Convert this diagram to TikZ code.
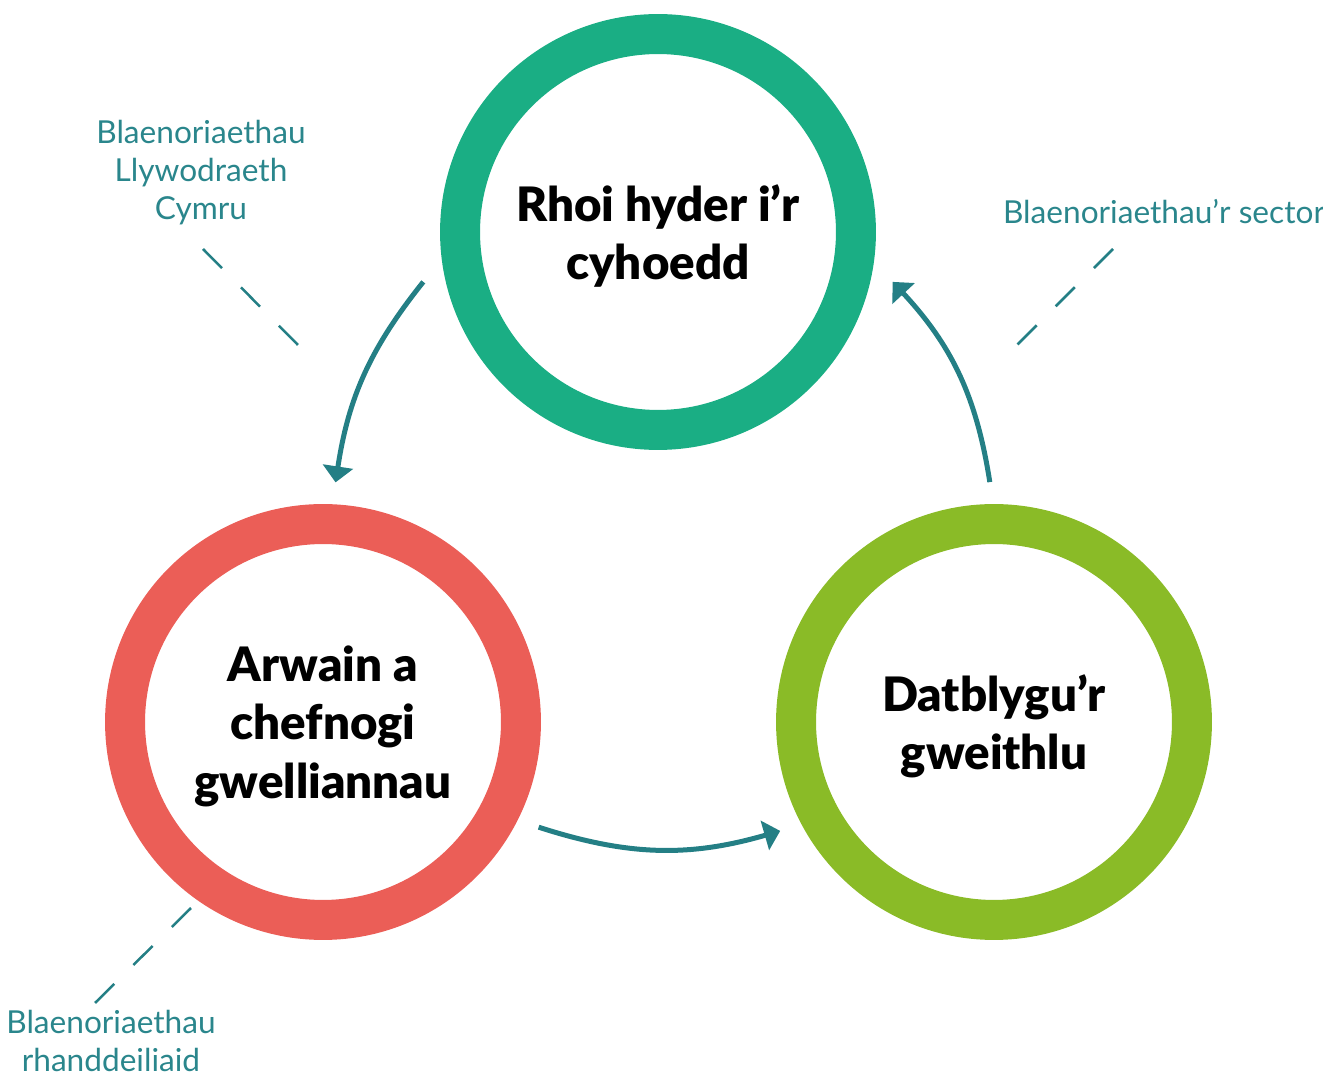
\documentclass[tikz,border=0pt]{standalone}
\usepackage{fontspec}
\setmainfont{Lato}[BoldFont={Lato Black}]
\usepackage{xcolor}
\usetikzlibrary{arrows.meta}
\definecolor{ringteal}{HTML}{1AAE84}
\definecolor{ringred}{HTML}{EB5E57}
\definecolor{ringgreen}{HTML}{8ABB27}
\definecolor{link}{HTML}{247F85}
\definecolor{labc}{HTML}{2A868C}
\tikzset{
  ring/.style={circle, draw=#1, line width=0.8cm, minimum size=7.92cm, inner sep=0pt, outer sep=0.84cm, align=center, text depth=0pt, font=\bfseries\fontsize{27}{33.2}\selectfont},
  flow/.style={draw=link, line width=0.1cm, -{Triangle[length=0.32cm,width=0.6cm]}},
  help/.style={draw=link, line width=0.05cm, dash pattern=on 0.54cm off 0.54cm},
  lab/.style={text=labc, align=center, font=\fontsize{18}{21.6}\selectfont},
}
\begin{document}
\begin{tikzpicture}[x=0.02cm,y=0.02cm]
\useasboundingbox (0,0) rectangle (1323,-1077);
\node[ring=ringteal] (hyder) at (658,-232) {Rhoi hyder i’r\\cyhoedd};
\node[ring=ringred] (arwain) at (323,-722) {Arwain a\\chefnogi\\gwelliannau};
\node[ring=ringgreen] (gweithlu) at (994,-722) {Datblygu’r\\gweithlu};

\draw[flow] (hyder.192) to[bend right=15] (arwain.87);
\draw[flow] (arwain.-26) to[bend right=17] (gweithlu.207);
\draw[flow] (gweithlu.91) to[bend right=17] (hyder.-12);

\node[lab] (llyw) at (201,-173) {Blaenoriaethau\\Llywodraeth\\Cymru};
\node[lab] (sector) at (1164,-212) {Blaenoriaethau’r sector};
\node[lab] (rhand) at (111,-1041) {Blaenoriaethau\\rhanddeiliaid};

% dashed pointers
\coordinate (llyw1) at (203,-249);
\coordinate (llyw2) at (298,-345);
\coordinate (sector1) at (1113,-249);
\coordinate (sector2) at (1017,-345);
\coordinate (rhand1) at (191,-908);
\coordinate (rhand2) at (95,-1003);
\draw[help] (llyw1) -- (llyw2);
\draw[help] (sector1) -- (sector2);
\draw[help] (rhand1) -- (rhand2);
\end{tikzpicture}
\end{document}
